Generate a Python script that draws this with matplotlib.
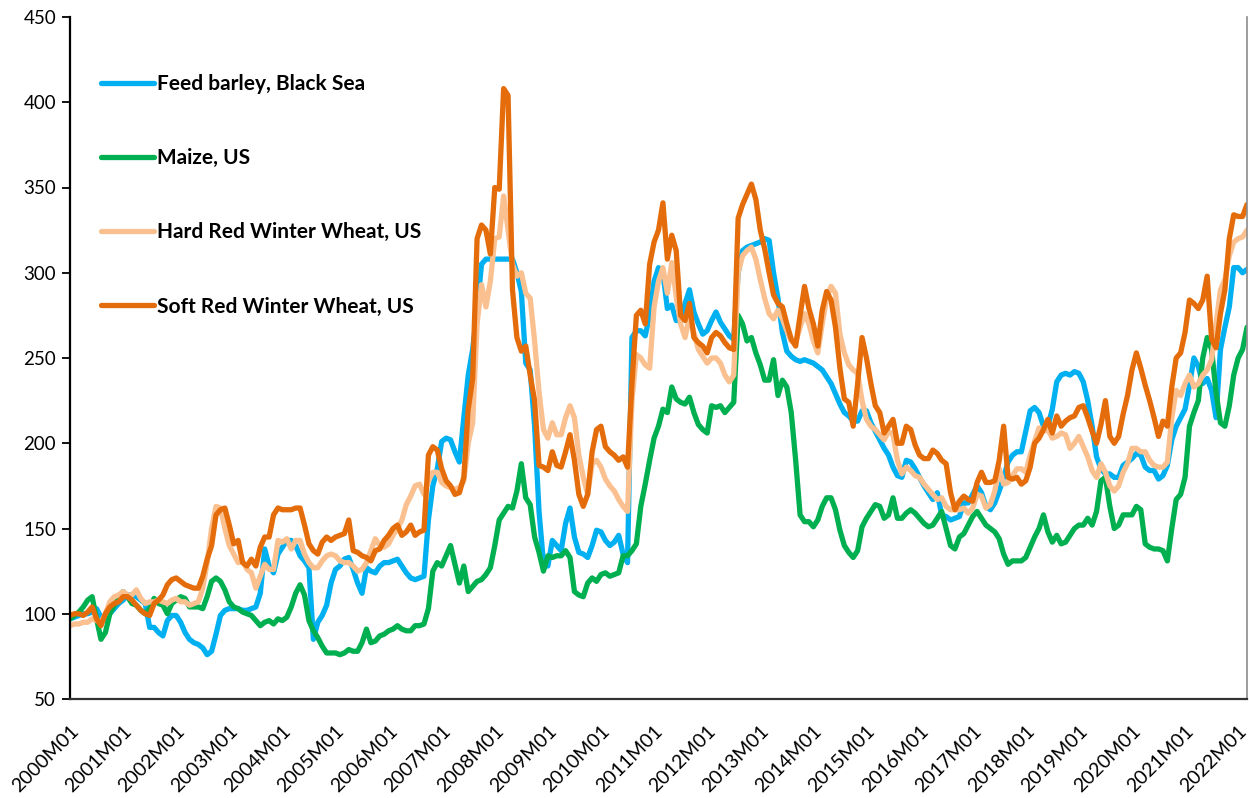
import numpy as np
import matplotlib
matplotlib.use("Agg")
import matplotlib.pyplot as plt
from matplotlib.transforms import ScaledTranslation

plt.rcParams["font.family"] = ["Lato", "DejaVu Sans"]

# monthly prices, 2000M01 .. 2022M03 (one row per year)
barley_black_sea = [
    97, 98, 99, 100, 100, 101, 103, 98, 97, 100, 103, 106,
    108, 111, 111, 110, 108, 106, 92, 92, 89, 87, 96, 99,
    99, 95, 89, 85, 83, 82, 80, 76, 78, 88, 99, 102,
    103, 103, 103, 102, 102, 103, 104, 112, 138, 128, 124, 135,
    139, 143, 143, 140, 134, 131, 127, 85, 95, 99, 105, 118,
    126, 128, 132, 133, 126, 118, 112, 127, 125, 124, 128, 130,
    130, 131, 132, 128, 124, 121, 120, 121, 122, 155, 175, 185,
    201, 203, 202, 195, 189, 215, 240, 255, 278, 305, 308, 308,
    308, 308, 308, 308, 308, 300, 289, 247, 243, 210, 160, 130,
    128, 143, 140, 137, 153, 162, 145, 136, 135, 133, 140, 149,
    148, 143, 140, 142, 146, 135, 130, 262, 266, 266, 263, 275,
    295, 303, 300, 279, 281, 272, 272, 282, 290, 277, 270, 264,
    266, 272, 277, 271, 267, 263, 261, 300, 313, 315, 316, 317,
    318, 320, 319, 300, 285, 265, 254, 251, 249, 248, 249, 248,
    247, 245, 243, 239, 235, 229, 223, 218, 216, 213, 213, 219,
    219, 212, 207, 202, 197, 193, 186, 181, 180, 190, 189, 185,
    180, 175, 171, 167, 171, 158, 157, 155, 156, 157, 165, 165,
    170, 175, 171, 163, 161, 165, 172, 180, 189, 193, 195, 195,
    207, 219, 221, 218, 210, 210, 220, 236, 240, 241, 240, 242,
    241, 236, 225, 210, 192, 185, 182, 182, 180, 180, 187, 189,
    191, 194, 193, 186, 184, 184, 179, 181, 187, 202, 210, 215,
    220, 234, 250, 245, 235, 238, 231, 215, 255, 268, 280, 303,
    303, 300, 302,
]

maize_us = [
    97, 99, 101, 104, 108, 110, 97, 85, 89, 100, 105, 109,
    113, 110, 106, 105, 102, 100, 103, 109, 106, 105, 100, 106,
    108, 110, 109, 104, 104, 104, 103, 110, 119, 121, 119, 114,
    107, 104, 103, 101, 100, 99, 96, 93, 95, 96, 94, 97,
    96, 98, 104, 112, 117, 111, 96, 90, 86, 81, 77, 77,
    77, 76, 77, 79, 78, 78, 83, 91, 83, 84, 87, 88,
    90, 91, 93, 91, 90, 90, 93, 93, 94, 103, 125, 130,
    128, 134, 140, 129, 118, 128, 113, 116, 119, 120, 123, 127,
    140, 155, 159, 163, 162, 172, 188, 168, 164, 145, 136, 125,
    134, 133, 134, 134, 137, 133, 113, 111, 110, 118, 121, 119,
    123, 124, 122, 123, 124, 134, 134, 137, 141, 163, 176, 190,
    203, 210, 220, 218, 233, 226, 224, 223, 227, 218, 211, 208,
    206, 222, 221, 222, 218, 221, 224, 275, 270, 260, 262, 253,
    246, 237, 237, 249, 228, 237, 233, 218, 190, 158, 154, 154,
    151, 155, 163, 168, 168, 161, 149, 140, 136, 133, 137, 151,
    156, 160, 164, 163, 156, 158, 168, 156, 156, 159, 161, 159,
    156, 153, 151, 152, 156, 160, 150, 140, 138, 145, 147, 152,
    157, 160, 156, 152, 150, 148, 144, 135, 129, 131, 131, 131,
    133, 139, 145, 150, 158, 148, 142, 146, 141, 142, 146, 150,
    152, 152, 156, 152, 160, 178, 180, 163, 150, 152, 158, 158,
    158, 163, 161, 141, 139, 138, 138, 137, 131, 150, 167, 170,
    180, 210, 218, 225, 250, 262, 255, 230, 212, 210, 222, 240,
    250, 255, 268,
]

hrw_wheat_us = [
    93, 94, 94, 95, 95, 97, 96, 95, 100, 107, 110, 111,
    113, 111, 111, 114, 109, 106, 107, 107, 108, 107, 106, 108,
    109, 107, 107, 105, 106, 107, 115, 130, 150, 163, 162, 150,
    140, 135, 130, 131, 126, 124, 115, 122, 129, 126, 126, 143,
    142, 144, 138, 143, 143, 135, 130, 127, 127, 131, 134, 135,
    134, 131, 130, 130, 128, 125, 126, 130, 137, 144, 140, 139,
    141, 146, 150, 155, 164, 169, 175, 176, 170, 178, 183, 183,
    177, 175, 174, 173, 174, 178, 200, 212, 270, 293, 280, 295,
    320, 321, 345, 325, 305, 298, 300, 288, 285, 260, 230, 208,
    203, 212, 205, 205, 215, 222, 215, 193, 180, 170, 188, 190,
    186, 179, 175, 172, 167, 163, 160, 225, 252, 250, 246, 244,
    280, 295, 303, 288, 306, 286, 270, 262, 274, 265, 255, 251,
    247, 250, 250, 247, 240, 236, 240, 300, 310, 313, 315, 308,
    296, 285, 276, 273, 278, 273, 266, 260, 259, 268, 276, 270,
    260, 253, 270, 285, 292, 288, 264, 253, 246, 243, 241, 225,
    214, 210, 208, 205, 202, 207, 205, 190, 182, 186, 184, 181,
    180, 176, 173, 170, 167, 168, 163, 161, 161, 161, 162, 159,
    162, 170, 169, 162, 164, 172, 185, 176, 177, 181, 185, 185,
    183, 193, 201, 209, 207, 208, 203, 204, 206, 205, 197, 200,
    204, 198, 192, 184, 180, 188, 183, 175, 172, 175, 183, 188,
    197, 197, 195, 195, 190, 187, 186, 186, 189, 215, 231, 228,
    235, 240, 233, 235, 240, 243, 249, 270, 290, 296, 310, 318,
    320, 321, 325,
]

srw_wheat_us = [
    99, 100, 100, 99, 101, 104, 97, 93, 100, 104, 106, 107,
    110, 110, 108, 105, 102, 100, 99, 106, 108, 111, 117, 120,
    121, 119, 117, 116, 115, 115, 122, 132, 140, 158, 161, 162,
    152, 141, 143, 130, 128, 132, 128, 139, 145, 145, 158, 162,
    161, 161, 161, 162, 162, 152, 141, 137, 135, 142, 145, 143,
    145, 146, 147, 155, 137, 136, 134, 133, 131, 137, 138, 143,
    146, 150, 152, 146, 148, 152, 146, 148, 149, 193, 198, 196,
    185, 178, 175, 170, 171, 180, 220, 238, 320, 328, 325, 311,
    350, 349, 408, 404, 290, 262, 254, 257, 240, 225, 187, 186,
    184, 195, 187, 186, 195, 205, 190, 170, 163, 170, 195, 208,
    210, 198, 195, 193, 190, 192, 186, 235, 275, 278, 270, 305,
    318, 325, 341, 308, 322, 313, 275, 272, 282, 262, 259, 257,
    253, 262, 265, 263, 259, 256, 255, 332, 340, 346, 352, 343,
    325, 314, 300, 287, 282, 280, 270, 261, 257, 275, 292, 279,
    270, 257, 278, 289, 284, 268, 244, 226, 224, 210, 235, 262,
    250, 235, 222, 218, 206, 210, 214, 200, 200, 210, 208, 199,
    193, 191, 191, 196, 194, 190, 188, 171, 161, 166, 169, 167,
    166, 177, 183, 177, 177, 178, 190, 210, 180, 179, 180, 176,
    178, 186, 200, 203, 208, 214, 206, 216, 210, 213, 215, 216,
    221, 222, 215, 207, 200, 211, 225, 204, 200, 204, 217, 228,
    243, 253, 244, 234, 225, 215, 204, 213, 210, 233, 250, 253,
    265, 284, 282, 279, 284, 298, 261, 256, 276, 290, 320, 334,
    333, 333, 340,
]

years = list(range(2000, 2023))
tick_labels = [f"{y}M01" for y in years]

series = [
    ("Feed barley, Black Sea", barley_black_sea, "#00B0F0"),
    ("Maize, US", maize_us, "#00B050"),
    ("Hard Red Winter Wheat, US", hrw_wheat_us, "#FAC090"),
    ("Soft Red Winter Wheat, US", srw_wheat_us, "#E46C0A"),
]

W, H = 1249, 798
fig = plt.figure(figsize=(W / 100, H / 100), dpi=100)
ax = fig.add_axes([70 / W, 1 - 699 / H, (1247 - 70) / W, (699 - 17) / H])

x = np.arange(len(srw_wheat_us))
for label, values, color in series:
    ax.plot(x, values, color=color, lw=3.8, label=label,
            solid_joinstyle="round", solid_capstyle="round")

ax.set_xlim(0, len(x) - 1)
ax.set_ylim(50, 450)
ax.set_yticks(np.arange(50, 451, 50))
ax.set_xticks(np.arange(0, len(x), 12))
ax.set_xticklabels(tick_labels, rotation=45, ha="right", va="center",
                   rotation_mode="anchor")

ax.tick_params(axis="y", direction="out", length=6, width=1.3,
               labelsize=13.5, pad=4, colors="black")
ax.tick_params(axis="x", length=0, labelsize=14, pad=21)
shift = ScaledTranslation(6 / 100, 0, fig.dpi_scale_trans)
for lbl in ax.get_xticklabels():
    lbl.set_transform(lbl.get_transform() + shift)

for side in ["left", "bottom"]:
    ax.spines[side].set_linewidth(1.6)
    ax.spines[side].set_color("black")
ax.spines["bottom"].set_color("#333333")
ax.spines["right"].set_color("#8c8c8c")
ax.spines["right"].set_linewidth(1.2)
ax.spines["top"].set_visible(False)

leg = ax.legend(loc="upper left", bbox_to_anchor=(101 / W, 1 - 74 / H),
                bbox_transform=fig.transFigure, frameon=False,
                borderpad=0, borderaxespad=0, handlelength=2.55,
                handletextpad=0.12, labelspacing=2.6,
                prop={"weight": "bold", "size": 15})

fig.savefig("out.png", dpi=100)
